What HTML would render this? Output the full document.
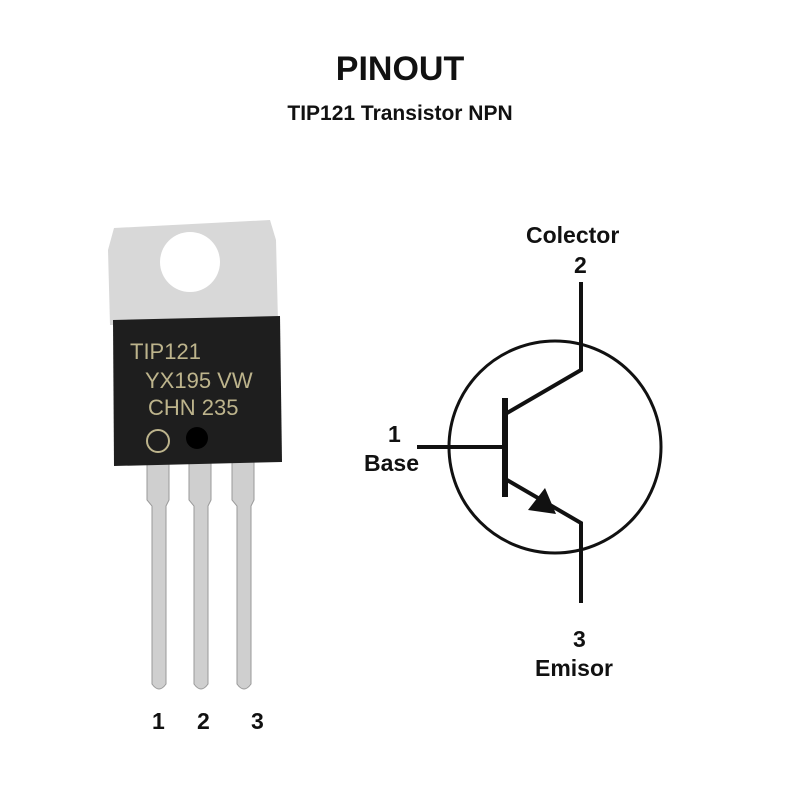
<!DOCTYPE html>
<html><head><style>
body{margin:0;width:800px;height:800px;background:#fff;position:relative;font-family:"Liberation Sans",sans-serif;overflow:hidden}
.t{position:absolute;font-weight:bold;color:#111;text-align:center}
</style></head><body>
<div class="t" style="left:0;width:800px;top:50px;font-size:34px">PINOUT</div>
<div class="t" style="left:0;width:800px;top:102px;font-size:21px">TIP121 Transistor NPN</div>
<svg width="800" height="800" style="position:absolute;left:0;top:0">
 <g fill="#cfcfcf" stroke="#9a9a9a" stroke-width="1">
  <path d="M147 462 h22 v38 l-3 6 v178 q-7 10 -14 0 v-178 l-5 -6z"/>
  <path d="M189 462 h22 v38 l-3 6 v178 q-7 10 -14 0 v-178 l-5 -6z"/>
  <path d="M232 462 h22 v38 l-3 6 v178 q-7 10 -14 0 v-178 l-5 -6z"/>
 </g>
 <path d="M114 228 L270 220 L276 240 L278 322 L110 325 L108 250 Z" fill="#d8d8d8"/>
 <circle cx="190" cy="262" r="30" fill="#fff"/>
 <path d="M113 320 L280 316 L282 462 L114 466 Z" fill="#1e1e1e"/>
 <g fill="#bdb48c" font-family="Liberation Sans,sans-serif" font-size="22">
  <text x="130" y="359">TIP121</text>
  <text x="145" y="388">YX195 VW</text>
  <text x="148" y="415">CHN 235</text>
 </g>
 <circle cx="158" cy="441" r="11" fill="none" stroke="#bdb48c" stroke-width="2"/>
 <circle cx="197" cy="438" r="11" fill="#000"/>
 <g stroke="#111" stroke-width="4" fill="none">
  <circle cx="555" cy="447" r="106" stroke-width="3"/>
  <path d="M581 282 V370 L507 413"/>
  <path d="M505 398 V497" stroke-width="6"/>
  <path d="M417 447 H505"/>
  <path d="M507 480 L581 523 V603"/>
 </g>
 <path d="M528 510 L545 488 L556 514 Z" fill="#111"/>
</svg>
<div class="t" style="left:526px;top:222px;font-size:23px">Colector</div>
<div class="t" style="left:574px;top:252px;font-size:23px">2</div>
<div class="t" style="left:388px;top:421px;font-size:23px">1</div>
<div class="t" style="left:364px;top:450px;font-size:23px">Base</div>
<div class="t" style="left:573px;top:626px;font-size:23px">3</div>
<div class="t" style="left:535px;top:655px;font-size:23px">Emisor</div>
<div class="t" style="left:152px;top:708px;font-size:23px">1</div>
<div class="t" style="left:197px;top:708px;font-size:23px">2</div>
<div class="t" style="left:251px;top:708px;font-size:23px">3</div>
</body></html>
